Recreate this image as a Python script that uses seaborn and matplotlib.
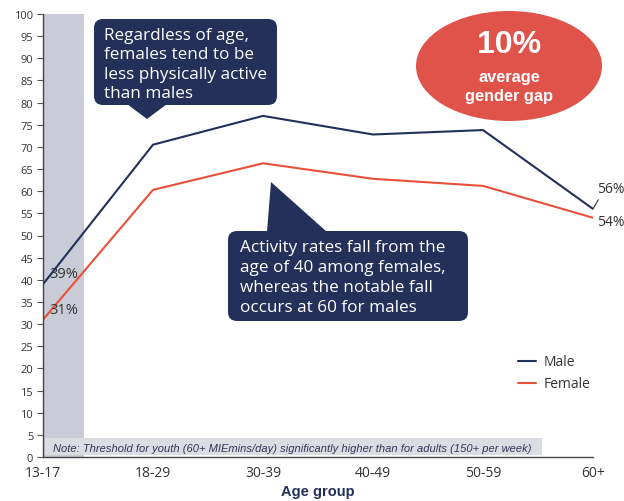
import matplotlib
matplotlib.use("Agg")
import matplotlib.pyplot as plt
import seaborn as sns
import pandas as pd
from matplotlib.patches import FancyBboxPatch, Polygon, Ellipse

age_groups = ["13-17", "18-29", "30-39", "40-49", "50-59", "60+"]
male = [39, 70.5, 77, 72.8, 73.8, 56]
female = [31, 60.3, 66.3, 62.8, 61.2, 54]
yticks = list(range(0, 101, 5))

df = pd.DataFrame({
    "x": list(range(len(age_groups))) * 2,
    "value": male + female,
    "Gender": ["Male"] * len(male) + ["Female"] * len(female),
})

sns.set_theme(style="white")
plt.rcParams['font.family'] = ['Open Sans', 'DejaVu Sans']

W, H = 624, 502
fig = plt.figure(figsize=(W / 100, H / 100), dpi=100)
ax = fig.add_axes([43 / W, 1 - 458 / H, (593 - 43) / W, (458 - 15) / H])

NAVY = "#22305a"
RED = "#e8503a"

# grey band for youth
ax.axvspan(0, 0.37, ymin=0, ymax=1, color="#c9ccd6", zorder=0, lw=0)

sns.lineplot(data=df, x="x", y="value", hue="Gender", palette={"Male": NAVY, "Female": RED},
             ax=ax, lw=1.5, legend=True)

ax.set_xlim(0, 5)
ax.set_ylim(0, 100)
ax.set_yticks(yticks)
ax.set_yticklabels([str(t) for t in yticks], fontsize=8, color="#333333")
ax.set_xticks(range(len(age_groups)))
ax.set_xticklabels(age_groups, fontsize=10, color="#333333")
ax.tick_params(axis="y", length=4, width=0.8, color="#555555", pad=3, left=True)
ax.tick_params(axis="x", length=0, pad=6)
ax.set_xlabel("Age group", fontsize=10.5, fontweight="bold", color=NAVY,
              family=["Liberation Sans", "DejaVu Sans"], labelpad=3)
ax.set_ylabel("")
for s in ["top", "right"]:
    ax.spines[s].set_visible(False)
ax.spines["left"].set_color("#444444")
ax.spines["bottom"].set_color("#444444")
ax.spines["left"].set_linewidth(1)
ax.spines["bottom"].set_linewidth(1)

leg = ax.legend(loc="upper left", bbox_to_anchor=((505 - 43) / 550, 1 - (343 - 15) / 443),
                frameon=False, fontsize=10, handlelength=1.3, handletextpad=0.6,
                labelspacing=0.5)
for t in leg.get_texts():
    t.set_color("#333333")

# value labels
ax.text(0.06, male[0] + 2.5, f"{male[0]}%", fontsize=10.5, color="#333333", va="center", ha="left")
ax.text(0.06, female[0] + 2.2, f"{female[0]}%", fontsize=10.5, color="#333333", va="center", ha="left")
ax.annotate(f"{male[-1]}%", xy=(5, male[-1]), xytext=(5.04, male[-1] + 4.5), fontsize=10,
            color="#333333", va="center", ha="left", annotation_clip=False,
            arrowprops=dict(arrowstyle="-", color="#333333", lw=0.8, shrinkA=0, shrinkB=0,
                            relpos=(0.1, 0.0)))
ax.text(5.04, female[-1] - 0.8, f"{female[-1]}%", fontsize=10, color="#333333",
        va="center", ha="left", clip_on=False)

# helpers in pixel space
tr = fig.dpi_scale_trans
def P(x, y):
    return (x / 100, (H - y) / 100)

# note box
note = FancyBboxPatch(P(45, 456), (542 - 45) / 100, 17 / 100, boxstyle="square,pad=0",
                      transform=tr, facecolor="#dcdde3", edgecolor="none", zorder=3)
fig.patches.append(note)
fig.text(*P(53, 449), "Note: Threshold for youth (60+ MIEmins/day) significantly higher than for adults (150+ per week)",
         transform=tr, fontsize=8.0, style="italic", color="#333355", va="center", ha="left",
         family=["Liberation Sans", "DejaVu Sans"], zorder=4)

# callout 1
b1 = FancyBboxPatch(P(94, 106), (277 - 94) / 100, (106 - 20) / 100,
                    boxstyle="round,pad=0,rounding_size=0.09", transform=tr,
                    facecolor=NAVY, edgecolor="none", zorder=3)
fig.patches.append(b1)
fig.patches.append(Polygon([P(127, 105), P(167, 105), P(147, 120)], closed=True,
                           transform=tr, facecolor=NAVY, edgecolor="none", zorder=3))
fig.text(*P(104, 65), "Regardless of age,\nfemales tend to be\nless physically active\nthan males",
         transform=tr, fontsize=12.3, color="white", va="center", ha="left",
         linespacing=1.3, zorder=4)

# callout 2
b2 = FancyBboxPatch(P(228, 322), (468 - 228) / 100, (322 - 232) / 100,
                    boxstyle="round,pad=0,rounding_size=0.09", transform=tr,
                    facecolor=NAVY, edgecolor="none", zorder=3)
fig.patches.append(b2)
fig.patches.append(Polygon([P(267, 233), P(271, 183), P(327, 233)], closed=True,
                           transform=tr, facecolor=NAVY, edgecolor="none", zorder=3))
fig.text(*P(240, 278), "Activity rates fall from the\nage of 40 among females,\nwhereas the notable fall\noccurs at 60 for males",
         transform=tr, fontsize=12.3, color="white", va="center", ha="left",
         linespacing=1.32, zorder=4)

# ellipse
fig.patches.append(Ellipse(P(509, 67), 186 / 100, 110 / 100, transform=tr,
                           facecolor="#e0534a", edgecolor="none", zorder=3))
fig.text(*P(509, 45), "10%", transform=tr, fontsize=23, fontweight="bold", color="white",
         ha="center", va="center", family=["Liberation Sans", "DejaVu Sans"], zorder=4)
fig.text(*P(509, 87), "average\ngender gap", transform=tr, fontsize=11.8, fontweight="bold",
         color="white", ha="center", va="center", linespacing=1.3,
         family=["Liberation Sans", "DejaVu Sans"], zorder=4)

fig.savefig("out.png", dpi=100)
